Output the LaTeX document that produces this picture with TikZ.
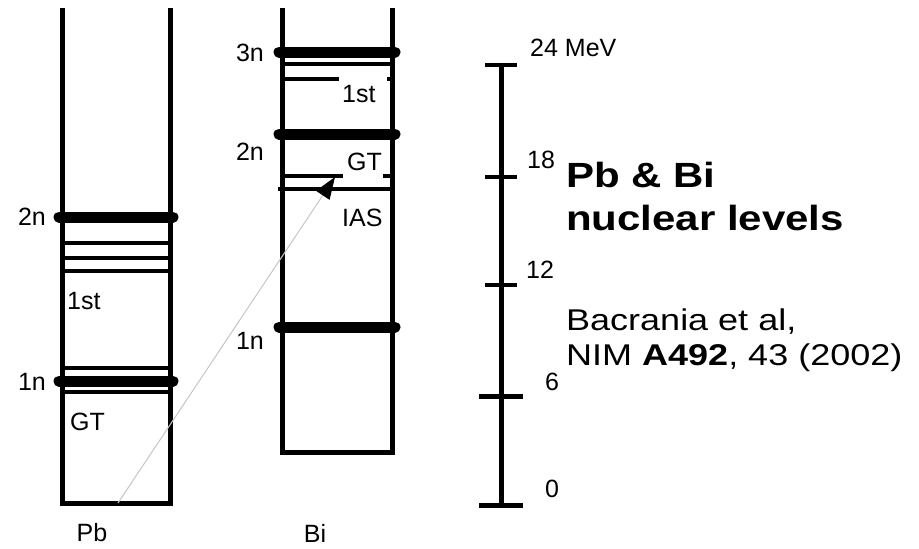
\documentclass[tikz,border=0pt]{standalone}
\usepackage{fontspec}
\setmainfont{Liberation Sans}[FakeStretch=1.2]
\newfontfamily\labfont{Liberation Sans}
\usetikzlibrary{arrows.meta}

\begin{document}
\begin{tikzpicture}[x=1pt,y=-1pt,
  col/.style={line width=5pt},
  lvl/.style={line width=3.2pt},
  shell/.style={line width=11pt,line cap=round},
  tick/.style={line width=4pt},
  lab/.style={inner sep=0pt,font=\labfont\fontsize{25}{29}\selectfont},
  big/.style={inner sep=0pt,anchor=base west,font=\fontsize{35}{40}\selectfont\bfseries},
  cite/.style={inner sep=0pt,anchor=base west,font=\fontsize{30}{36}\selectfont}]
\useasboundingbox[fill=white] (0,0) rectangle (919,549);
% Pb column
\draw[col] (62,8) -- (62,503) -- (170,503) -- (170,8);
\foreach \y in {243,258,271,368,392}
  \draw[lvl] (62,\y) -- (170,\y);
\draw[shell] (59,217) -- (173,217);
\draw[shell] (59,381) -- (173,381);
\node[lab] (pbtwo) at (32,217) {2n};
\node[lab,anchor=west] (pbfirst) at (67,301) {1st};
\node[lab] (pbone) at (32,382) {1n};
\node[lab,anchor=west] (pbgt) at (70,422) {GT};
\node[lab] (pb) at (92,533) {Pb};
% Bi column
\draw[col] (282,8) -- (282,452) -- (392,452) -- (392,8);
\draw[lvl] (282,64) -- (392,64);
\draw[lvl] (282,79) -- (339,79) (387,79) -- (392,79);
\draw[lvl] (282,176) -- (343,176) (383,176) -- (392,176);
\draw[line width=4.5pt] (278,189) -- (392,189);
\draw[shell] (279,52) -- (395,52);
\draw[shell] (279,134) -- (395,134);
\draw[shell] (279,327) -- (395,327);
\node[lab] (bithree) at (250,53) {3n};
\node[lab,anchor=west] (bifirst) at (342,94) {1st};
\node[lab] (bitwo) at (250,152) {2n};
\node[lab,anchor=west] (bigt) at (347,162) {GT};
\node[lab,anchor=west] (bias) at (342,218) {IAS};
\node[lab] (bione) at (250,341) {1n};
\node[lab] (bi) at (315,533) {Bi};
% transition
\coordinate (pbfoot) at (118,503);
\coordinate (iastip) at (335,177);
\draw[gray!45,line width=1pt,-{Triangle[length=22pt,width=16pt,black]}] (pbfoot) -- (iastip);
% energy scale
\draw[line width=5pt] (501,65) -- (501,505);
\foreach \y in {65,177,285}
  \draw[tick] (485,\y) -- (517,\y);
\foreach \y in {396,505}
  \draw[line width=5pt] (479,\y) -- (523,\y);
\node[lab,anchor=west] (e24) at (530,48) {24 MeV};
\node[lab,anchor=west] (e18) at (527,160) {18};
\node[lab,anchor=west] (e12) at (526,270) {12};
\node[lab,anchor=west] (e6) at (545,382) {6};
\node[lab,anchor=west] (e0) at (545,489) {0};
% caption
\node[big] (title) at (566,187) {Pb \& Bi};
\node[big] (title2) at (566,230) {nuclear levels};
\node[cite] (ref) at (566,330) {Bacrania et al,};
\node[cite] (ref2) at (566,365) {NIM \textbf{A492}, 43 (2002)};
\end{tikzpicture}
\end{document}
